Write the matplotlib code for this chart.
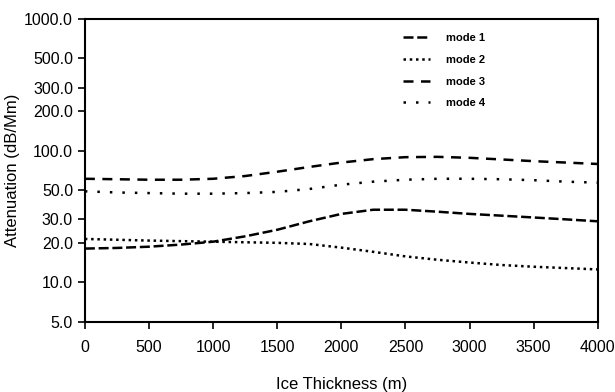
import matplotlib.pyplot as plt
from matplotlib.ticker import FixedLocator, NullLocator

plt.rcParams['font.family'] = ['Liberation Sans', 'DejaVu Sans']

thickness = [0, 250, 500, 750, 1000, 1250, 1500, 1750, 2000,
             2250, 2500, 2750, 3000, 3250, 3500, 3750, 4000]

mode1 = [18.0, 18.2, 18.6, 19.3, 20.3, 22.3, 25.0, 29.0, 33.0,
         35.5, 35.5, 34.3, 33.0, 32.0, 31.0, 30.0, 29.0]
mode2 = [21.3, 21.0, 20.7, 20.5, 20.3, 20.1, 19.9, 19.5, 18.3,
         17.0, 15.7, 14.8, 14.1, 13.5, 13.1, 12.8, 12.5]
mode3 = [61.0, 60.5, 60.0, 60.0, 61.0, 64.0, 69.0, 75.0, 81.0,
         86.0, 89.0, 89.5, 88.0, 85.5, 83.0, 81.0, 79.0]
mode4 = [49.0, 48.0, 47.5, 47.0, 47.0, 47.5, 48.5, 51.0, 55.0,
         58.0, 60.0, 61.0, 61.0, 60.5, 59.5, 58.0, 57.0]

y_ticks = [5, 10, 20, 30, 50, 100, 200, 300, 500, 1000]
x_ticks = [0, 500, 1000, 1500, 2000, 2500, 3000, 3500, 4000]

fig = plt.figure(figsize=(6.15, 3.92), dpi=100)
ax = fig.add_axes([0.138, 0.179, 0.834, 0.773])

ax.plot(thickness, mode1, color='black', lw=1.8, dashes=(4, 1.5), label='mode 1')
ax.plot(thickness, mode2, color='black', lw=1.8, dashes=(1, 1.5), label='mode 2')
ax.plot(thickness, mode3, color='black', lw=1.8, dashes=(4, 3), label='mode 3')
ax.plot(thickness, mode4, color='black', lw=1.8, dashes=(1, 4), label='mode 4')

ax.set_yscale('log')
ax.set_ylim(5, 1000)
ax.set_xlim(0, 4000)
ax.yaxis.set_major_locator(FixedLocator(y_ticks))
ax.yaxis.set_minor_locator(NullLocator())
ax.set_yticklabels([f'{v:.1f}' for v in y_ticks])
ax.set_xticks(x_ticks)
ax.set_xticklabels([str(v) for v in x_ticks])

for side in ax.spines.values():
    side.set_linewidth(1.5)
ax.tick_params(direction='out', length=5, width=1.2, labelsize=11.5)
ax.tick_params(axis='x', pad=8)

ax.set_xlabel('Ice Thickness (m)', fontsize=12, labelpad=16)
ax.set_ylabel('Attenuation (dB/Mm)', fontsize=12, labelpad=3)

leg = ax.legend(loc='upper left', bbox_to_anchor=(0.6, 0.985), frameon=False,
                handlelength=2.5, handletextpad=1.4, labelspacing=1.05,
                prop={'weight': 'bold', 'size': 8})

fig.savefig('out.png', dpi=100)
